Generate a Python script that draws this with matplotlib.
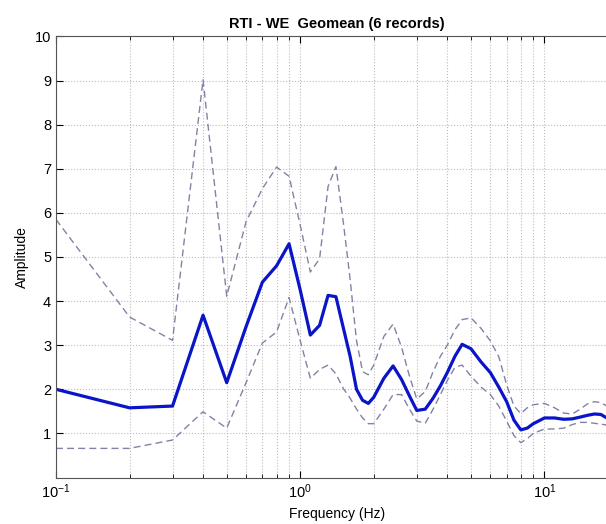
import matplotlib
matplotlib.use('Agg')
import matplotlib.pyplot as plt
import numpy as np
from matplotlib.ticker import LogLocator, NullFormatter

plt.rcParams['font.family'] = ['Liberation Sans', 'DejaVu Sans']

# frequency grid (Hz)
freq = [0.1, 0.2, 0.3, 0.4, 0.5, 0.6, 0.7, 0.8, 0.9, 1.0,
        1.1, 1.2, 1.3, 1.4, 1.5, 1.6, 1.7, 1.8, 1.9, 2.0,
        2.2, 2.4, 2.6, 2.8, 3.0, 3.25, 3.5, 3.75, 4.0, 4.3,
        4.6, 5.0, 5.5, 6.0, 6.5, 7.0, 7.5, 8.0, 8.5, 9.0,
        10, 11, 12, 13, 14, 15, 16, 17, 18, 19, 20]

# geometric mean amplitude
geomean = [2.00, 1.58, 1.62, 3.68, 2.15, 3.42, 4.43, 4.80, 5.30, 4.25,
           3.23, 3.45, 4.13, 4.10, 3.40, 2.75, 2.00, 1.75, 1.68, 1.82,
           2.25, 2.53, 2.22, 1.85, 1.52, 1.55, 1.80, 2.08, 2.38, 2.75,
           3.02, 2.92, 2.62, 2.38, 2.05, 1.72, 1.30, 1.08, 1.12, 1.22,
           1.35, 1.35, 1.32, 1.33, 1.37, 1.41, 1.44, 1.43, 1.35, 1.30, 1.28]

# +/- one standard deviation
upper = [5.85, 3.64, 3.11, 9.02, 4.11, 5.80, 6.55, 7.04, 6.83, 5.72,
         4.66, 4.96, 6.60, 7.05, 5.80, 4.50, 3.10, 2.40, 2.33, 2.55,
         3.20, 3.48, 2.95, 2.30, 1.78, 1.95, 2.40, 2.75, 3.00, 3.35,
         3.58, 3.62, 3.38, 3.10, 2.74, 2.10, 1.62, 1.45, 1.58, 1.65,
         1.68, 1.58, 1.46, 1.44, 1.55, 1.67, 1.72, 1.70, 1.62, 1.55, 1.50]

lower = [0.66, 0.66, 0.85, 1.49, 1.12, 2.15, 3.05, 3.30, 4.08, 3.10,
         2.25, 2.45, 2.55, 2.35, 2.02, 1.80, 1.55, 1.35, 1.22, 1.22,
         1.55, 1.88, 1.88, 1.55, 1.28, 1.23, 1.55, 1.88, 2.20, 2.50,
         2.55, 2.30, 2.05, 1.88, 1.62, 1.28, 0.95, 0.79, 0.88, 1.00,
         1.10, 1.10, 1.12, 1.20, 1.25, 1.25, 1.23, 1.21, 1.19, 1.17, 1.15]

fig = plt.figure(figsize=(6.06, 5.24), dpi=100)
# the right edge of the axes runs just past the picture, as in the original
ax = fig.add_axes([56/606, 46.5/524, 562/606, 441/524])

dash_col = '#8282a6'
ax.semilogx(freq, upper, '--', color=dash_col, lw=1.0, dashes=(5, 3))
ax.semilogx(freq, lower, '--', color=dash_col, lw=1.0, dashes=(5, 3))
ax.semilogx(freq, geomean, '-', color='#0a14c8', lw=2.3)

ax.set_xlim(0.1, 20)
ax.set_ylim(0, 10)
ax.set_yticks(np.arange(1, 11))
ax.xaxis.set_major_locator(LogLocator(base=10, numticks=10))
ax.xaxis.set_minor_locator(LogLocator(base=10, subs=np.arange(2, 10), numticks=20))
ax.xaxis.set_minor_formatter(NullFormatter())

ax.grid(True, which='major', axis='both', ls=':', color='#bcbcbc', lw=0.8)
ax.grid(True, which='minor', axis='x', ls=':', color='#bcbcbc', lw=0.8)
ax.tick_params(which='both', direction='in', top=True, right=True, labelsize=10.5)
ax.tick_params(which='major', length=5)
ax.tick_params(which='minor', length=3)
for sp in ax.spines.values():
    sp.set_color('#555555')

ax.set_title('RTI - WE  Geomean (6 records)', fontsize=10.5, fontweight='bold')
ax.set_xlabel('Frequency (Hz)', fontsize=10)
ax.set_ylabel('Amplitude', fontsize=10)

fig.savefig('out.png', dpi=100)
